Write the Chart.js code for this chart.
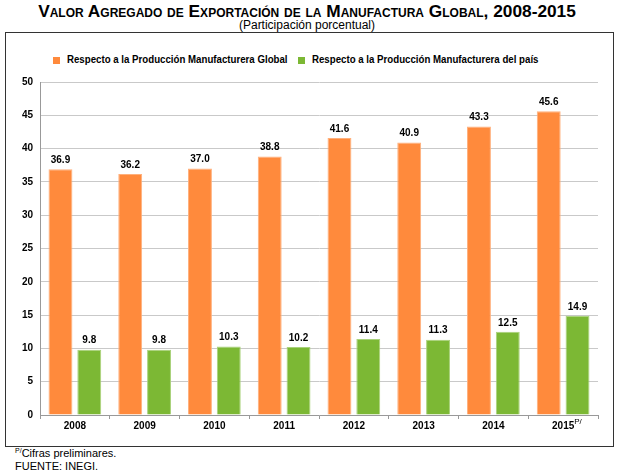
<!DOCTYPE html>
<html>
<head>
<meta charset="utf-8">
<script src="https://cdn.jsdelivr.net/npm/chart.js@4.4.0/dist/chart.umd.min.js"></script>
<style>
  body { margin: 0; width: 622px; height: 474px; position: relative; background: #fff; font-family: "Liberation Sans", Arial, sans-serif; overflow: hidden; }
  #frame { position: absolute; left: 5px; top: 32px; width: 607px; height: 413px; border: 1.5px solid #333; }
  #title { position: absolute; left: -4px; top: 1px; width: 622px; text-align: center; font-weight: bold; font-size: 17.3px; font-variant: small-caps; color: #000; }
  #subtitle { position: absolute; left: -4px; top: 18px; width: 622px; text-align: center; font-size: 12px; color: #000; }
  .box { position: absolute; top: 57px; width: 7px; height: 7px; }
  .item { position: absolute; top: 53px; font-weight: bold; font-size: 11px; white-space: nowrap; transform: scaleX(0.88); transform-origin: left top; }
  #notes { position: absolute; left: 15px; top: 447px; font-size: 11px; line-height: 13px; }
  #notes sup { font-size: 7px; vertical-align: 4px; line-height: 0; }
  canvas { position: absolute; left: 0; top: 0; }
</style>
</head>
<body>
<div id="frame"></div>
<div id="title">Valor Agregado de Exportación de la Manufactura Global, 2008-2015</div>
<div id="subtitle">(Participación porcentual)</div>
<div id="legend"></div>
<div id="notes"><sup>P/</sup>Cifras preliminares.<br>FUENTE: INEGI.</div>
<canvas id="chart" width="622" height="474"></canvas>
<script>
const years = ['2008', '2009', '2010', '2011', '2012', '2013', '2014', '2015'];
const globalShare = [36.9, 36.2, 37.0, 38.8, 41.6, 40.9, 43.3, 45.6];
const countryShare = [9.8, 9.8, 10.3, 10.2, 11.4, 11.3, 12.5, 14.9];
const seriesNames = ['Respecto a la Producción Manufacturera Global', 'Respecto a la Producción Manufacturera del país'];
const orange = '#ff8a3c';
const green = '#7cb834';

// legend as html, the font in the picture is a condensed one
const legend = document.getElementById('legend');
const legendX = [53, 298];
legend.innerHTML = seriesNames.map((name, i) =>
  `<span class="box" style="left:${legendX[i]}px;background:${i === 0 ? orange : green}"></span>` +
  `<span class="item" style="left:${legendX[i] + 14}px">${name}</span>`
).join('');

const valueLabels = {
  id: 'valueLabels',
  afterDatasetsDraw(chart) {
    const ctx = chart.ctx;
    ctx.save();
    ctx.font = 'bold 10px "Liberation Sans", Arial';
    ctx.fillStyle = '#000';
    ctx.textAlign = 'center';
    ctx.textBaseline = 'bottom';
    chart.data.datasets.forEach((ds, di) => {
      chart.getDatasetMeta(di).data.forEach((bar, i) => {
        ctx.fillText(ds.data[i].toFixed(1), bar.x, bar.y - 4);
      });
    });
    // superindice P/ para 2015
    const xScale = chart.scales.x;
    const x = xScale.getPixelForValue(years.length - 1);
    ctx.font = '8px "Liberation Sans", Arial';
    ctx.textAlign = 'left';
    ctx.fillText('P/', x + 11, chart.chartArea.bottom + 11);
    ctx.restore();
  }
};

new Chart(document.getElementById('chart'), {
  type: 'bar',
  data: {
    labels: years,
    datasets: [
      {
        label: seriesNames[0],
        data: globalShare,
        backgroundColor: orange,
        borderColor: '#ffb07c',
        borderWidth: 1,
        categoryPercentage: 0.826,
        barPercentage: 0.83,
      },
      {
        label: seriesNames[1],
        data: countryShare,
        backgroundColor: green,
        borderColor: '#a9d27a',
        borderWidth: 1,
        categoryPercentage: 0.826,
        barPercentage: 0.83,
      },
    ],
  },
  options: {
    responsive: false,
    animation: false,
    layout: { padding: { left: 0, top: 82, right: 24, bottom: 29 } },
    plugins: {
      legend: { display: false },
      tooltip: { enabled: false },
    },
    scales: {
      x: {
        afterFit: (scale) => { scale.height = 30; },
        grid: { offset: true, drawOnChartArea: false, drawTicks: true, tickLength: 4, color: '#999' },
        border: { color: '#999' },
        ticks: { color: '#000', padding: 1, font: { family: '"Liberation Sans", Arial', size: 10, weight: 'bold' } },
      },
      y: {
        min: 0,
        max: 50,
        afterFit: (scale) => { scale.width = 40; },
        grid: { color: '#c9c9c9', drawTicks: false },
        border: { color: '#999' },
        ticks: { stepSize: 5, color: '#000', padding: 7, font: { family: '"Liberation Sans", Arial', size: 10, weight: 'bold' } },
      },
    },
  },
  plugins: [valueLabels],
});
</script>
</body>
</html>
